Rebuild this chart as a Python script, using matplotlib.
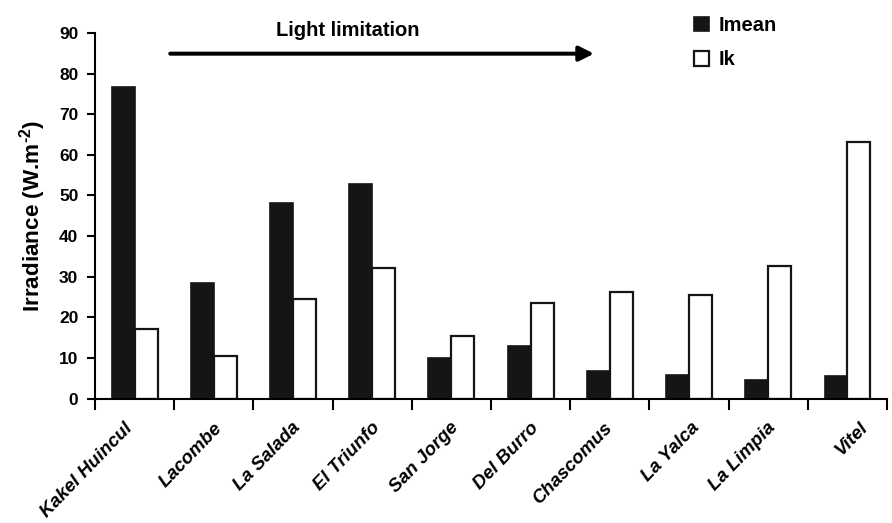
import matplotlib.pyplot as plt
import matplotlib.transforms as mtransforms
import numpy as np

plt.rcParams['font.family'] = ['Liberation Sans', 'DejaVu Sans']
plt.rcParams['font.weight'] = 'bold'
plt.rcParams['mathtext.fontset'] = 'custom'
plt.rcParams['mathtext.rm'] = 'Liberation Sans:bold'
plt.rcParams['mathtext.bf'] = 'Liberation Sans:bold'
plt.rcParams['mathtext.default'] = 'bf'

lakes = ["Kakel Huincul", "Lacombe", "La Salada", "El Triunfo", "San Jorge",
         "Del Burro", "Chascomus", "La Yalca", "La Limpia", "Vitel"]
imean = [76.6, 28.4, 48.1, 52.7, 10.0, 12.9, 6.8, 5.9, 4.6, 5.5]
ik = [17.1, 10.4, 24.6, 32.1, 15.4, 23.4, 26.2, 25.5, 32.6, 63.1]

x = np.arange(len(lakes))
w = 0.29

fig = plt.figure(figsize=(8.92, 5.23), dpi=100)
ax = fig.add_axes([0.1065, 0.238, 0.888, 0.699])

b1 = ax.bar(x - w / 2, imean, w, color='#151515', edgecolor='#151515',
            linewidth=1.2, label='Imean')
b2 = ax.bar(x + w / 2, ik, w, color='white', edgecolor='#151515',
            linewidth=1.6, label='Ik')

ax.set_xlim(-0.5, len(lakes) - 0.5)
ax.set_ylim(0, 90)
ax.set_yticks(np.arange(0, 91, 10))
ax.tick_params(axis='y', labelsize=12.5, length=6, width=1.5,
               direction='out', pad=6)

# ticks between the groups, labels centred under them
ax.set_xticks(x)
ax.set_xticks(np.arange(-0.5, len(lakes), 1), minor=True)
ax.tick_params(axis='x', which='major', length=0, pad=15)
ax.tick_params(axis='x', which='minor', length=8, width=1.5, direction='out')
ax.set_xticklabels(lakes, rotation=46, ha='right', va='top',
                   rotation_mode='anchor', fontsize=13.5, style='italic',
                   fontweight='bold')

for s in ['top', 'right']:
    ax.spines[s].set_visible(False)
for s in ['left', 'bottom']:
    ax.spines[s].set_linewidth(1.5)

ax.set_ylabel('Irradiance (W.m$^{\\text{-2}}$)', fontsize=16.2,
              fontweight='bold', labelpad=8)

ax.annotate('', xy=(5.8, 84.9), xytext=(0.45, 84.9),
            arrowprops=dict(arrowstyle='-|>', lw=2.9, color='black',
                            mutation_scale=22, shrinkA=0, shrinkB=0),
            annotation_clip=False)
ax.text(2.69, 90.7, 'Light limitation', ha='center', va='center',
        fontsize=14.5, fontweight='bold', clip_on=False)

fig.legend(handles=[b1, b2], loc='upper left',
           bbox_to_anchor=(676 / 892, 1 + 2 / 523), frameon=False,
           fontsize=14.5, handlelength=0.75, handleheight=0.75,
           handletextpad=0.45, labelspacing=0.75)

# the original (spreadsheet) nudges short labels right and long ones left
fig.canvas.draw()
for lbl in ax.get_xticklabels():
    bw = lbl.get_window_extent().width
    dx = (22 - 0.37 * (bw - 10)) / 100
    lbl.set_transform(lbl.get_transform() +
                      mtransforms.ScaledTranslation(dx, 0, fig.dpi_scale_trans))

fig.savefig('out.png', dpi=100)
